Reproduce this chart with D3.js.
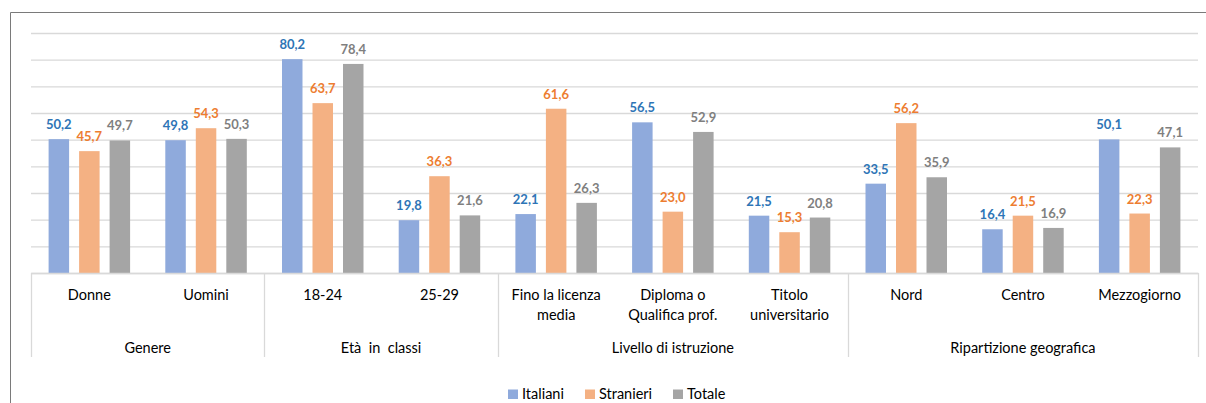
<!DOCTYPE html>
<html>
<head>
<meta charset="utf-8">
<script src="https://cdn.jsdelivr.net/npm/d3@7"></script>
<style>
  html, body { margin: 0; padding: 0; background: #ffffff; }
  svg { display: block; }
  text { font-family: Lato, "Open Sans", sans-serif; white-space: pre; }
</style>
</head>
<body>
<svg id="chart" width="1206" height="403"></svg>
<script>
// ---- data ----
const categories = [
  "Donne", "Uomini", "18-24", "25-29",
  "Fino la licenza\nmedia", "Diploma o\nQualifica prof.", "Titolo\nuniversitario",
  "Nord", "Centro", "Mezzogiorno"
];
const groupNames = ["Genere", "Età  in  classi", "Livello di istruzione", "Ripartizione geografica"];
const groupSizes = [2, 2, 3, 3];
const seriesNames = ["Italiani", "Stranieri", "Totale"];
const italiani  = [50.2, 49.8, 80.2, 19.8, 22.1, 56.5, 21.5, 33.5, 16.4, 50.1];
const stranieri = [45.7, 54.3, 63.7, 36.3, 61.6, 23.0, 15.3, 56.2, 21.5, 22.3];
const totale    = [49.7, 50.3, 78.4, 21.6, 26.3, 52.9, 20.8, 35.9, 16.9, 47.1];
const yTicks = [0, 10, 20, 30, 40, 50, 60, 70, 80, 90];

const barColors = ["#8FAADC", "#F4B183", "#A5A5A5"];
const labelColors = ["#2E75B6", "#ED7D31", "#7F7F7F"];

// ---- layout ----
const svg = d3.select("#chart");
const plot = { left: 31, right: 1198, top: 33, bottom: 273 };

const idx = categories.map((_, i) => i);
const x0 = d3.scaleBand().domain(idx).range([plot.left, plot.right]).paddingInner(0).paddingOuter(0);
const x1 = d3.scaleBand().domain([0, 1, 2]).range([0, x0.bandwidth()]).paddingInner(0.328).paddingOuter(0.577);
const y = d3.scaleLinear().domain([0, 90]).range([plot.bottom, plot.top]);

// frame
svg.append("path")
  .attr("d", `M10.5,403 L10.5,12.5 L1206,12.5`)
  .attr("fill", "none").attr("stroke", "#7a7a7a").attr("stroke-width", 1);

// gridlines
const yAxis = d3.axisLeft(y).tickValues(yTicks).tickSize(-(plot.right - plot.left)).tickFormat("");
const gy = svg.append("g").attr("transform", `translate(${plot.left},0)`).call(yAxis);
gy.select(".domain").remove();
gy.selectAll(".tick line").attr("stroke", "#D9D9D9").attr("stroke-width", 1.3);

// bars
const series = [italiani, stranieri, totale];
const fmt = v => d3.format(".1f")(v).replace(".", ",");
const gBars = svg.append("g");
series.forEach((vals, s) => {
  gBars.selectAll(null).data(vals).enter().append("rect")
    .attr("x", (d, i) => x0(i) + x1(s))
    .attr("y", d => y(d))
    .attr("width", x1.bandwidth())
    .attr("height", d => y(0) - y(d))
    .attr("fill", barColors[s]);
  gBars.selectAll(null).data(vals).enter().append("text")
    .attr("x", (d, i) => x0(i) + x1(s) + x1.bandwidth() / 2)
    .attr("y", d => y(d) - 10)
    .attr("text-anchor", "middle")
    .attr("font-size", 13).attr("font-weight", "bold")
    .attr("fill", labelColors[s])
    .text(d => fmt(d));
});

// category axis
const xAxis = d3.axisBottom(x0).tickSize(0).tickFormat("");
const gx = svg.append("g").attr("transform", `translate(0,${plot.bottom})`).call(xAxis);
gx.select(".domain").attr("stroke", "#D9D9D9").attr("stroke-width", 1.3);

// category labels
categories.forEach((c, i) => {
  const t = svg.append("text")
    .attr("x", x0(i) + x0.bandwidth() / 2)
    .attr("y", 300)
    .attr("text-anchor", "middle")
    .attr("font-size", 14.5).attr("fill", "#000");
  c.split("\n").forEach((line, k) => {
    t.append("tspan").attr("x", x0(i) + x0.bandwidth() / 2).attr("dy", k === 0 ? 0 : 20).text(line);
  });
});

// group separators and labels
let start = 0;
const seps = [plot.left];
groupNames.forEach((g, gi) => {
  const end = start + groupSizes[gi];
  const xs = x0(start), xe = x0(end - 1) + x0.bandwidth();
  seps.push(xe);
  svg.append("text")
    .attr("x", (xs + xe) / 2).attr("y", 353)
    .attr("text-anchor", "middle").attr("font-size", 14.5).attr("fill", "#000")
    .text(g);
  start = end;
});
svg.selectAll(null).data(seps).enter().append("line")
  .attr("x1", d => Math.round(d) + 0.5).attr("x2", d => Math.round(d) + 0.5)
  .attr("y1", plot.bottom).attr("y2", 357)
  .attr("stroke", "#D9D9D9").attr("stroke-width", 1.3);

// legend
const legendX = [508, 585, 673];
const lg = svg.append("g");
seriesNames.forEach((n, s) => {
  lg.append("rect").attr("x", legendX[s]).attr("y", 389.5).attr("width", 10).attr("height", 9.5).attr("fill", barColors[s]);
  lg.append("text").attr("x", legendX[s] + 14).attr("y", 398.5)
    .attr("font-size", 14.5).attr("fill", "#000").text(n);
});
</script>
</body>
</html>
